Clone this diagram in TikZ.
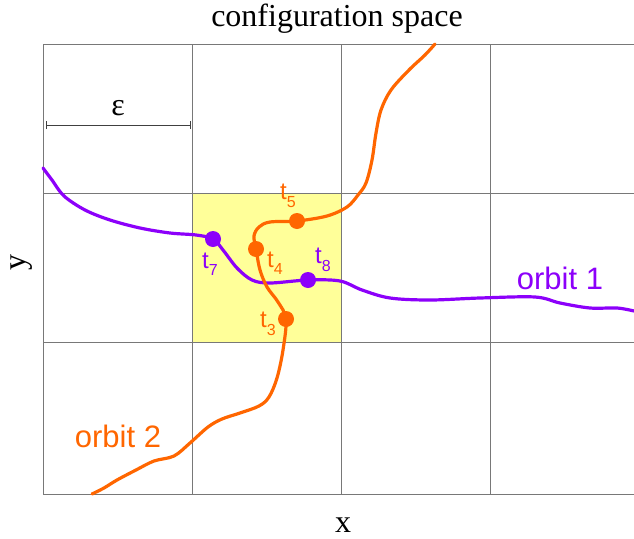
\documentclass[tikz,border=0pt]{standalone}
\usepackage{fontspec}
\setmainfont{Liberation Serif}
\setsansfont{Liberation Sans}
\usetikzlibrary{arrows.meta}

\definecolor{orbitpurple}{RGB}{140,0,250}
\definecolor{orbitorange}{RGB}{255,102,0}
\definecolor{boxyellow}{RGB}{255,255,153}
\definecolor{gridgray}{RGB}{120,120,120}

% t with a lowered index, as on the sample points
\newcommand{\tlab}[1]{t\raisebox{-7.5pt}{\fontsize{16}{16}\selectfont #1}}

\begin{document}
\begin{tikzpicture}[
  x=1pt,
  y=-1pt,
  gridline/.style={draw=gridgray, line width=1pt},
  orbitone/.style={draw=orbitpurple, line width=3.2pt, line cap=round},
  orbittwo/.style={draw=orbitorange, line width=3.2pt, line cap=round},
  dot/.style={circle, minimum size=16pt, inner sep=0pt},
  tlabel/.style={font=\fontsize{24}{24}\sffamily, inner sep=0pt},
  orbitlabel/.style={font=\fontsize{31}{31}\sffamily, inner sep=0pt},
  axislabel/.style={font=\fontsize{32}{32}\rmfamily, inner sep=0pt}
]

\useasboundingbox (0,0) rectangle (634,538);

% the epsilon cell
\fill[boxyellow] (192,193) rectangle (341,342);

\foreach \gx in {43,192,341,490}
  \draw[gridline] (\gx,44) -- (\gx,494);
\foreach \gy in {44,193,342,494}
  \draw[gridline] (43,\gy) -- (634,\gy);

\node[axislabel, anchor=base] (title) at (337,27) {configuration space};
\node[axislabel, anchor=base] (xlab) at (343,532) {x};
\node[axislabel, rotate=90] (ylab) at (22,262) {y};

% cell width
\coordinate (epsl) at (46,125);
\coordinate (epsr) at (191,125);
\draw[draw=black!75, line width=0.8pt, {Bar[width=8pt]}-{Bar[width=8pt]}] (epsl) -- (epsr);
\node[axislabel] (eps) at (118,108) {ε};

% sample points
\coordinate (p3) at (286,319);
\coordinate (p4) at (256,249);
\coordinate (p5) at (297,221);
\coordinate (p7) at (213,239);
\coordinate (p8) at (308,280);

\draw[orbitone] plot[smooth, tension=0.55] coordinates {
  (43,168) (52,180) (64,196) (85,210) (110,220) (140,228) (170,233)
  (196,235) (p7) (223,250) (237,268) (252,280) (270,283) (p8)
  (340,281) (362,290) (390,298) (430,300) (480,298) (535,297)
  (560,303) (590,308) (617,308) (634,311)};

\draw[orbittwo] plot[smooth, tension=0.55] coordinates {
  (92,494) (104,488) (117,480) (136,470) (154,461) (174,456) (190,443)
  (208,427) (222,419) (240,413) (259,406) (269,397) (277,378) (283,350)
  (p3) (278,302) (267,287) (260,270) (p4) (254,236) (259,227) (270,222)
  (p5) (327,216) (347,207) (358,195) (366,183) (372,160) (376,133)
  (381,110) (391,90) (409,70) (425,55) (435,44)};

\node[dot, fill=orbitorange] (t3) at (p3) {};
\node[dot, fill=orbitorange] (t4) at (p4) {};
\node[dot, fill=orbitorange] (t5) at (p5) {};
\node[dot, fill=orbitpurple] (t7) at (p7) {};
\node[dot, fill=orbitpurple] (t8) at (p8) {};

\node[tlabel, text=orbitorange] (lt3) at (268,324) {\tlab{3}};
\node[tlabel, text=orbitorange] (lt4) at (275,263) {\tlab{4}};
\node[tlabel, text=orbitorange] (lt5) at (288,196) {\tlab{5}};
\node[tlabel, text=orbitpurple] (lt7) at (210,264) {\tlab{7}};
\node[tlabel, text=orbitpurple] (lt8) at (323,260) {\tlab{8}};

\node[orbitlabel, text=orbitpurple] (orbit1) at (560,278) {orbit 1};
\node[orbitlabel, text=orbitorange] (orbit2) at (118,436) {orbit 2};

\end{tikzpicture}
\end{document}
